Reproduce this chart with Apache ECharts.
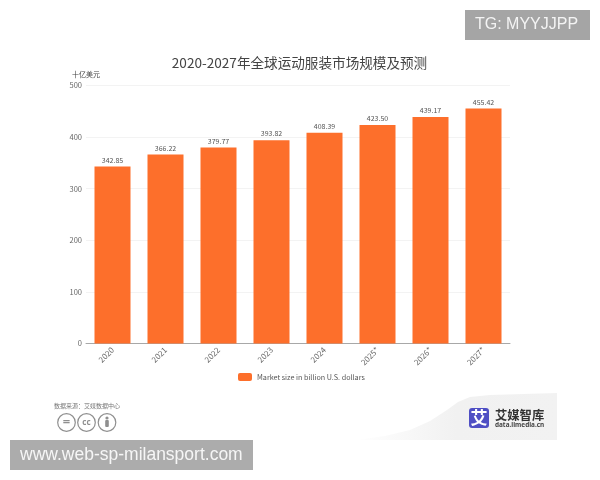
<!DOCTYPE html>
<html><head><meta charset="utf-8">
<style>html,body{margin:0;padding:0;background:#fff}#c{width:600px;height:480px}</style>
<script src="https://cdn.jsdelivr.net/npm/echarts@6/dist/echarts.min.js"></script>
</head><body><div id="c"></div>
<script>
var categories=['2020','2021','2022','2023','2024','2025*','2026*','2027*'];
var marketSize=[342.85,366.22,379.77,393.82,408.39,423.50,439.17,455.42];
var valueLabels=['342.85','366.22','379.77','393.82','408.39','423.50','439.17','455.42'];
var yTicks=[0,100,200,300,400,500];
var seriesName='Market size in billion U.S. dollars';
var chartTitle='2020-2027年全球运动服装市场规模及预测';
var yUnit='十亿美元';
var FF='"Noto Sans CJK SC","Noto Sans",sans-serif';
var chart=echarts.init(document.getElementById('c'),null,{renderer:'canvas'});
function circleIcon(cx,inner){
  return {type:'group',children:[{type:'circle',shape:{cx:cx,cy:422.5,r:8.8},style:{fill:'#fff',stroke:'#8f8f8f',lineWidth:1.2}}].concat(inner)};
}
chart.setOption({
  animation:false,
  backgroundColor:'#fff',
  title:{text:chartTitle,left:294.5,top:51,textAlign:'center',textStyle:{fontFamily:FF,fontSize:13.6,fontWeight:'normal',color:'#444'}},
  legend:{bottom:94,left:233,itemWidth:14,itemHeight:8,itemGap:4,data:[seriesName],
    textStyle:{fontFamily:FF,fontSize:7.2,color:'#555'}},
  grid:{left:86,right:90,top:85.5,bottom:136.5},
  xAxis:{type:'category',data:categories,
    axisLine:{lineStyle:{color:'#a8a8a8',width:1}},axisTick:{show:false},
    axisLabel:{rotate:45,interval:0,fontFamily:FF,fontSize:8,color:'#666',margin:5}},
  yAxis:{type:'value',min:0,max:500,interval:100,
    name:yUnit,nameLocation:'end',nameGap:8,nameTextStyle:{fontFamily:FF,fontSize:7,color:'#444',align:'right',padding:[0,-14,0,0]},
    axisLine:{show:false},axisTick:{show:false},
    splitLine:{lineStyle:{color:'#f3f3f3',width:1}},
    axisLabel:{fontFamily:FF,fontSize:7.5,color:'#666',margin:4,
      customValues:yTicks}},
  series:[{name:seriesName,type:'bar',data:marketSize,barWidth:36,
    itemStyle:{color:'#fd6f2b'},
    label:{show:true,position:'top',distance:3,fontFamily:FF,fontSize:7,color:'#555',
      formatter:function(p){return valueLabels[p.dataIndex];}}}],
  graphic:[
    {type:'rect',shape:{x:465,y:10,width:125,height:30},style:{fill:'#a5a5a5'}},
    {type:'text',style:{x:475,y:25,text:'TG: MYYJJPP',font:'16px "Liberation Sans",sans-serif',fill:'#f4f4f4',textVerticalAlign:'middle'}},
    {type:'polygon',shape:{points:[[355,440],[385,436],[410,430],[430,421],[447,410],[458,402],[470,397],[490,395],[557,393],[557,440]]},
      style:{fill:new echarts.graphic.LinearGradient(0,0,1,0,[{offset:0,color:'#ffffff'},{offset:0.5,color:'#f1f1f1'},{offset:1,color:'#f2f2f2'}])}},
    {type:'rect',shape:{x:469,y:408,width:20,height:20,r:3},style:{fill:'#4f4fc4'}},
    {type:'text',style:{x:479,y:418,text:'艾',font:'bold 17px "Noto Sans CJK SC"',fill:'#fff',textAlign:'center',textVerticalAlign:'middle'}},
    {type:'text',style:{x:495,y:415,text:'艾媒智库',font:'bold 12.3px "Noto Sans CJK SC"',fill:'#333',textVerticalAlign:'middle'}},
    {type:'text',style:{x:495,y:425,text:'data.iimedia.cn',font:'bold 6.4px "Noto Sans",sans-serif',fill:'#444',textVerticalAlign:'middle'}},
    {type:'text',style:{x:54,y:406,text:'数据来源：艾媒数据中心',font:'6px "Noto Sans CJK SC"',fill:'#777',textVerticalAlign:'middle'}},
    circleIcon(66.5,[{type:'text',style:{x:66.5,y:422,text:'=',font:'bold 13px "Noto Sans"',fill:'#8f8f8f',textAlign:'center',textVerticalAlign:'middle'}}]),
    circleIcon(86.5,[{type:'text',style:{x:86.5,y:422.5,text:'cc',font:'bold 8px "Noto Sans"',fill:'#8f8f8f',textAlign:'center',textVerticalAlign:'middle'}}]),
    circleIcon(107,[{type:'circle',shape:{cx:107,cy:418,r:1.6},style:{fill:'#8f8f8f'}},{type:'rect',shape:{x:105.2,y:420,width:3.6,height:7,r:1},style:{fill:'#8f8f8f'}}]),
    {type:'rect',shape:{x:10,y:440,width:243,height:30},style:{fill:'#acacac'}},
    {type:'text',style:{x:20,y:455,text:'www.web-sp-milansport.com',font:'17.5px "Liberation Sans",sans-serif',fill:'#f6f6f6',textVerticalAlign:'middle'}}
  ]
});
</script></body></html>
